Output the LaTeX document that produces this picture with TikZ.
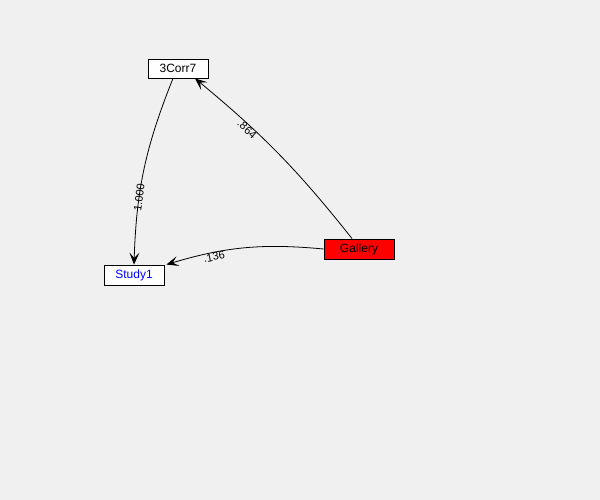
\documentclass[tikz,border=0pt]{standalone}
\usepackage{fontspec}
\setmainfont{Liberation Sans}
\usetikzlibrary{arrows.meta}

\begin{document}
\begin{tikzpicture}[x=1pt, y=1pt,
        caixa/.style={draw=black, line width=0.9pt, inner sep=0pt, font=\fontsize{12}{14}\selectfont},
        seta/.style={-{Stealth[length=12pt, width=10pt, inset=5.5pt]}, line width=0.8pt},
        peso/.style={sloped, inner sep=0pt, font=\fontsize{11}{13}\selectfont}]
        % Cores
        \definecolor{fundo}{HTML}{F0F0F0}
        \definecolor{vermelho}{HTML}{FF0000}
        \definecolor{azul}{HTML}{0000FF}

        % Fundo e margens
        \fill[fundo] (0,0) rectangle (600,500);
        \useasboundingbox (0,0) rectangle (600,500);

        % Caixas das variaveis
        \node[caixa, fill=white, minimum width=60pt, minimum height=19pt] (corr) at (178,431.5) {3Corr7};
        \node[caixa, fill=white, minimum width=60pt, minimum height=20pt, text=azul] (study) at (134,225) {Study1};
        \node[caixa, fill=vermelho, minimum width=70pt, minimum height=20pt] (gallery) at (359,251) {Gallery};

        % Setas com pesos
        \draw[seta] ([xshift=-7pt]gallery.north) to[bend right=6]
            node[peso, pos=0.69, anchor=north] {.864} ([xshift=17pt]corr.south);
        \draw[seta] ([xshift=-5pt]corr.south) to[bend right=10]
            node[peso, pos=0.66] {1.000} (study.north);
        \draw[seta] (gallery.west) to[bend right=11]
            node[peso, pos=0.71, anchor=north] {.136} ([xshift=2pt]study.north east);
    \end{tikzpicture}
\end{document}
